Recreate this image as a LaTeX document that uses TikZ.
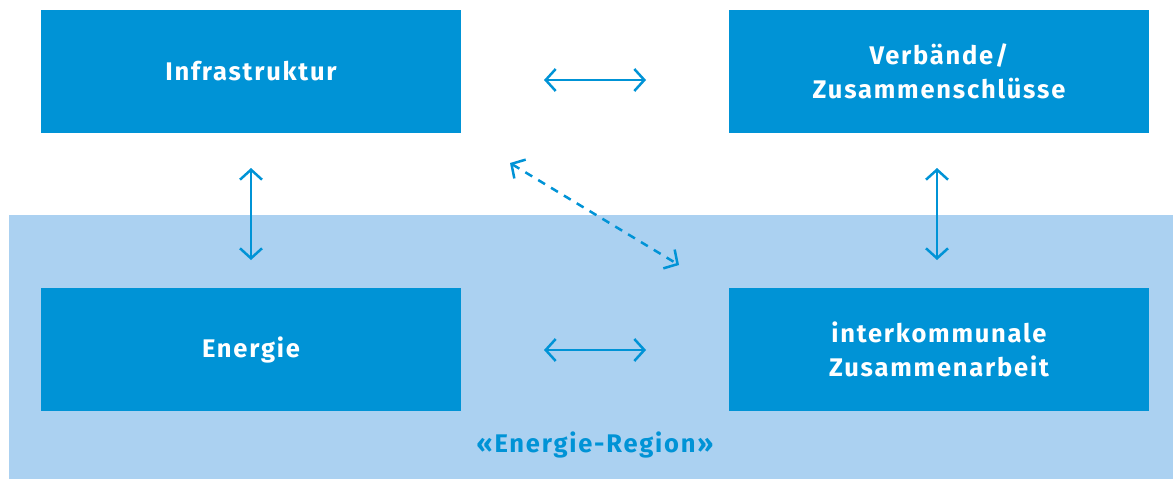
\documentclass[tikz,border=0pt]{standalone}
\usepackage{fontspec}
\setmainfont{Fira Sans}[LetterSpace=7]
\usetikzlibrary{arrows.meta}
\definecolor{boxblue}{HTML}{0093D6}
\definecolor{regionblue}{HTML}{ABD1F1}
\tikzset{
  x=1pt, y=-1pt,
  label font/.style={font=\bfseries\fontsize{25.5}{34}\selectfont},
  topic/.style={fill=boxblue, text=white, label font,
    minimum width=420pt, minimum height=123pt, align=center, inner sep=0pt},
  barb/.tip={Straight Barb[length=10pt,width=22pt,line width=2.5pt]},
  link/.style={draw=boxblue, line width=2.5pt, {barb}-{barb}},
  dashlink/.style={link, dash pattern=on 8pt off 7pt}
}
\begin{document}
\begin{tikzpicture}
\useasboundingbox (0,0) rectangle (1173,479);
% region background
\fill[regionblue] (9,215) rectangle (1173,479);
\node[text=boxblue, label font] (region) at (595,445) {«Energie-Region»};
% topic boxes
\node[topic] (infra) at (251,71.5) {Infrastruktur};
\node[topic] (verb) at (939,71.5) {Verbände/\\Zusammenschlüsse};
\node[topic] (energie) at (251,349.5) {Energie};
\node[topic] (ikz) at (939,349.5) {interkommunale\\Zusammenarbeit};
% connectors
\coordinate (t1) at (544,80);  \coordinate (t2) at (646,80);
\coordinate (b1) at (544,350); \coordinate (b2) at (646,350);
\coordinate (l1) at (251,168); \coordinate (l2) at (251,260);
\coordinate (r1) at (937,168); \coordinate (r2) at (937,260);
\coordinate (d1) at (510,163); \coordinate (d2) at (679,265);
\draw[link] (t1) -- (t2);
\draw[link] (b1) -- (b2);
\draw[link] (l1) -- (l2);
\draw[link] (r1) -- (r2);
\draw[dashlink] (d1) -- (d2);
\end{tikzpicture}
\end{document}
